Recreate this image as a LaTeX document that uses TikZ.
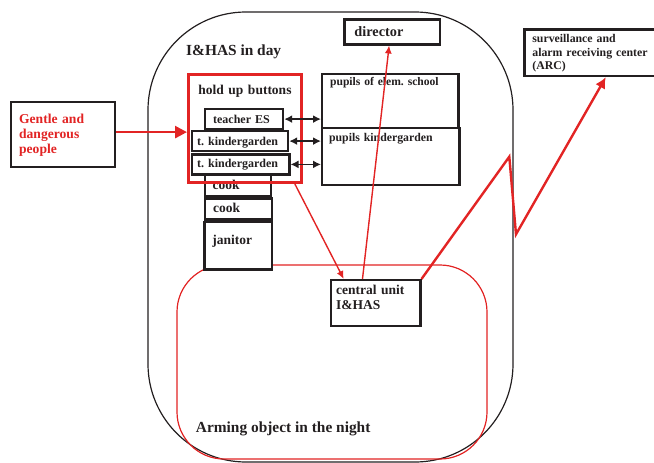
\documentclass[tikz,border=0pt]{standalone}
\usepackage{fontspec}
\setmainfont{Liberation Serif}
\usetikzlibrary{arrows.meta,calc}
\definecolor{alarmred}{RGB}{226,36,36}
\definecolor{ink}{RGB}{35,31,32}
\newcommand{\setfs}[2]{\fontsize{#1}{#2}\selectfont}
\frenchspacing

\tikzset{
    person/.style={draw=ink, text=ink, line width=2.2pt, fill=white, anchor=north west, inner ysep=0pt},
    link/.style={ink, line width=1.8pt, {Latex[length=8pt,width=8pt]}-{Latex[length=8pt,width=8pt]}},
    alarm/.style={alarmred, line width=1.4pt, -{Latex[length=8pt,width=7pt]}},
    zone/.style={anchor=base west, text=ink, inner sep=0pt, font=\bfseries\setfs{15.4}{18}}
}

\begin{document}
\begin{tikzpicture}[x=1pt,y=-1pt]
    \useasboundingbox (0,0) rectangle (654,463);

    % object by day, arming zone by night
    \draw[ink, line width=1.2pt, rounded corners=98pt] (148,12) rectangle (513,462);
    \draw[alarmred, line width=1.2pt, rounded corners=47pt] (177,265) rectangle (487,459);
    \node[zone] (daylabel) at (186,55.7) {I\&HAS in day};
    \node[zone] (nightlabel) at (195.7,432.7) {Arming object in the night};

    % rooms and outside parties
    \node[person, inner xsep=8pt, text width=120.3pt, text height=11.3pt, text depth=43.7pt,
        font=\bfseries\setfs{11.6}{13}] (elem) at (321,72.7) {pupils of elem. school};
    \node[person, inner xsep=7pt, text width=123.3pt, text height=14pt, text depth=43.3pt,
        font=\bfseries\setfs{11.8}{13}] (kinder) at (321,126.7) {pupils kindergarden};
    \node[person, inner xsep=10pt, text width=75.4pt, text height=16.7pt, text depth=8.3pt,
        font=\bfseries\setfs{14.3}{16}] (dir) at (343.3,18.3) {director};
    \node[person, inner xsep=8pt, text width=124pt, text height=13.4pt, text depth=33.3pt, align=left,
        font=\bfseries\setfs{11.8}{13.3}] (arc) at (523.3,28.3) {surveillance and\\alarm receiving center\\(ARC)};
    \node[person, inner xsep=5pt, text width=79.3pt, text height=14pt, text depth=32pt, align=left,
        font=\bfseries\setfs{13.5}{15}] (cu) at (330,279) {central unit\\I\&HAS};
    \node[person, inner xsep=8pt, text width=88pt, text height=21pt, text depth=44pt, align=left,
        text=alarmred, font=\bfseries\setfs{13.6}{15.3}] (gentle) at (10,101) {Gentle and\\dangerous\\people};

    % staff
    \node[person, inner xsep=8pt, text width=50.5pt, text height=16.3pt, text depth=6.7pt,
        font=\bfseries\setfs{13.5}{15}] (cook1) at (203.5,172) {cook};
    \node[person, inner xsep=8pt, text width=50.7pt, text height=14.4pt, text depth=6.6pt,
        font=\bfseries\setfs{13.5}{15}] (cook2) at (204,197.3) {cook};
    \node[person, inner xsep=8pt, text width=51.4pt, text height=22.6pt, text depth=25pt,
        font=\bfseries\setfs{13.5}{15}] (janitor) at (203.3,220.7) {janitor};
    \node[person, inner xsep=8pt, text width=62pt, text height=14.7pt, text depth=5.3pt,
        font=\bfseries\setfs{12}{14}] (teacher) at (204,108) {teacher ES};
    \node[person, inner xsep=5pt, text width=86pt, text height=14pt, text depth=6pt,
        font=\bfseries\setfs{12}{14}] (tk1) at (191,130) {t. kindergarden};
    \node[person, inner xsep=5pt, text width=87.3pt, text height=13.4pt, text depth=6.6pt,
        font=\bfseries\setfs{12}{14}] (tk2) at (191,153.3) {t. kindergarden};

    % hold up buttons
    \node[draw=alarmred, line width=3pt, anchor=north west, inner xsep=5pt, inner ysep=0pt,
        text width=103pt, text height=19.7pt, text depth=88.3pt, align=center, text=ink,
        font=\bfseries\setfs{13.5}{15}] (hold) at (187,73) {hold up buttons};

    % teachers to pupils
    \draw[link] (teacher.east) -- (teacher.east -| elem.west);
    \draw[link] (tk1.east) -- (tk1.east -| kinder.west);
    \draw[link] (tk2.east) -- (tk2.east -| kinder.west);

    % alarm paths
    \draw[alarmred, line width=2.6pt, -{Triangle[length=12pt,width=12pt]}]
        ([yshift=2.5pt]gentle.east) -- ([yshift=2.5pt]gentle.east -| hold.west);
    \draw[alarm] ($(hold.south west)!0.93!(hold.south east)$) -- ($(cu.north west)!0.15!(cu.north east)$);
    \draw[alarm] ($(cu.north west)!0.355!(cu.north east)$) -- ($(dir.south west)!0.47!(dir.south east)$);
    \coordinate (zigtop) at (509.3,156.7);
    \coordinate (zigbot) at (516,234.3);
    \draw[alarmred, line width=2.4pt, -{Latex[length=11pt,width=11pt]}]
        (cu.north east) -- (zigtop) -- (zigbot) -- ($(arc.south west)!0.58!(arc.south east)$);
\end{tikzpicture}
\end{document}
